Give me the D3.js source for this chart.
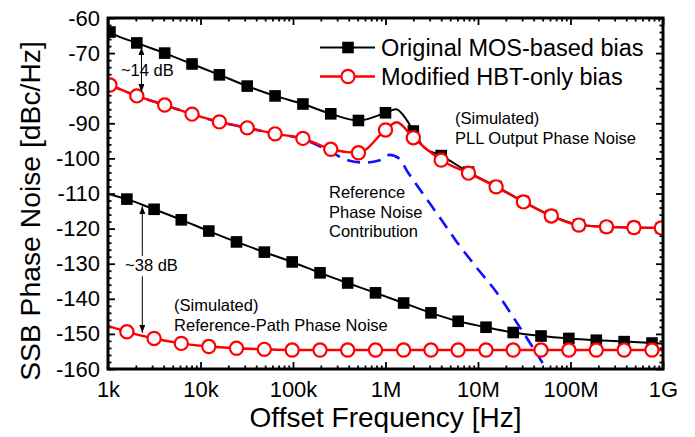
<!DOCTYPE html>
<html>
<head>
<meta charset="utf-8">
<script src="https://cdn.jsdelivr.net/npm/d3@7"></script>
<style>
  body { margin: 0; background: #fff; }
  svg { font-family: "Liberation Sans", Arial, sans-serif; }
</style>
</head>
<body>
<svg width="695" height="437"></svg>
<script>
// axis ticks
const xTicks = [1e3, 1e4, 1e5, 1e6, 1e7, 1e8, 1e9];
const xTickLabels = ['1k', '10k', '100k', '1M', '10M', '100M', '1G'];
const yTicks = [-60, -70, -80, -90, -100, -110, -120, -130, -140, -150, -160];

// PLL output phase noise (markers)
const upperFreq = [1.05e3, 2.05e3, 4.1e3, 8.1e3, 16e3, 32e3, 64e3, 128e3, 256e3, 510e3,
  1.0e6, 2.0e6, 4.0e6, 7.9e6, 15.7e6, 31e6, 62e6, 123e6, 245e6, 485e6, 960e6];
const mosPll = [-64.0, -67.1, -70.0, -73.1, -76.2, -79.4, -82.2, -84.5, -87.3, -89.2,
  -87.0, -92.2, -99.2, -103.9, -108.0, -112.3, -116.3, -118.9, -119.5, -119.7, -119.8];
const hbtPll = [-79.1, -82.2, -84.8, -87.4, -89.6, -91.3, -93.0, -94.3, -97.4, -98.4,
  -91.9, -94.1, -100.5, -104.2, -108.1, -112.4, -116.4, -119.0, -119.5, -119.7, -119.8];
// extra curve points (no marker): ends and peaks
const mosPllExtra = [[1e3, -63.6], [1.3e6, -86.0], [1.7e6, -89.1], [2.6e6, -96.8], [1e9, -119.8]];
const hbtPllExtra = [[1e3, -78.9], [1.32e6, -89.7], [1e9, -119.8]];

// reference path phase noise (markers)
const lowerFreq = [1.6e3, 3.15e3, 6.2e3, 12.3e3, 24.5e3, 49e3, 98e3, 196e3, 390e3, 780e3,
  1.57e6, 3.1e6, 6.1e6, 12.2e6, 24e6, 48e6, 96e6, 190e6, 380e6, 760e6];
const mosRef = [-111.6, -114.5, -117.5, -120.7, -123.8, -126.7, -129.5, -132.6, -135.5, -138.3,
  -141.2, -144.0, -146.4, -148.1, -149.6, -150.6, -151.3, -151.8, -152.2, -152.6];
const hbtRef = [-149.4, -151.3, -152.7, -153.6, -154.1, -154.4, -154.6, -154.6, -154.6, -154.6,
  -154.6, -154.6, -154.6, -154.6, -154.6, -154.6, -154.6, -154.6, -154.6, -154.6];
const mosRefExtra = [[1e3, -110.1], [1e9, -152.8]];
const hbtRefExtra = [[1e3, -147.7], [1e9, -154.6]];

// reference phase noise contribution (dashed)
const contribFreq = [1e3, 2.05e3, 4.1e3, 8.1e3, 16e3, 32e3, 64e3, 128e3, 250e3, 400e3, 600e3,
  850e3, 1.1e6, 1.4e6, 1.75e6, 2.0e6, 3.9e6, 5.9e6, 9.6e6, 16e6, 24e6, 50e6];
const contrib = [-78.9, -82.2, -84.8, -87.4, -89.6, -91.3, -93.0, -94.5, -98.0, -100.6, -101.2,
  -100.6, -99.0, -100.0, -104.0, -106.2, -117.0, -123.8, -131.0, -138.3, -145.2, -158.3];

const svg = d3.select('svg');
const box = { l: 108, r: 663, t: 18, b: 369 };

const x = d3.scaleLog().domain([1e3, 1e9]).range([box.l, box.r]);
const y = d3.scaleLinear().domain([-160, -60]).range([box.b, box.t]);

const xMinor = [];
xTicks.slice(0, -1).forEach(d => { for (let k = 2; k < 10; k++) xMinor.push(d * k); });
const yMinor = d3.range(-160, -59, 2).filter(d => d % 10 !== 0);

function tidy(g, size) {
  g.attr('font-family', null).attr('font-size', size);
  g.select('.domain').remove();
  g.selectAll('line').attr('stroke', '#000').attr('stroke-width', 1.8);
  g.selectAll('text').attr('fill', '#000');
}

// major + minor ticks on all four sides
svg.append('g').attr('transform', `translate(0,${box.b})`)
  .call(d3.axisBottom(x).tickValues(xTicks).tickFormat((d, i) => xTickLabels[i])
    .tickSizeInner(-7).tickSizeOuter(0).tickPadding(12))
  .call(g => tidy(g, 22));
svg.append('g').attr('transform', `translate(0,${box.b})`)
  .call(d3.axisBottom(x).tickValues(xMinor).tickFormat('').tickSize(-3.5))
  .call(g => tidy(g, 22));
svg.append('g').attr('transform', `translate(0,${box.t})`)
  .call(d3.axisTop(x).tickValues(xTicks).tickFormat('').tickSize(-7))
  .call(g => tidy(g, 22));
svg.append('g').attr('transform', `translate(0,${box.t})`)
  .call(d3.axisTop(x).tickValues(xMinor).tickFormat('').tickSize(-3.5))
  .call(g => tidy(g, 22));

svg.append('g').attr('transform', `translate(${box.l},0)`)
  .call(d3.axisLeft(y).tickValues(yTicks).tickFormat(d => d)
    .tickSizeInner(-7).tickSizeOuter(0).tickPadding(8))
  .call(g => tidy(g, 22));
svg.append('g').attr('transform', `translate(${box.l},0)`)
  .call(d3.axisLeft(y).tickValues(yMinor).tickFormat('').tickSize(-3.5))
  .call(g => tidy(g, 22));
svg.append('g').attr('transform', `translate(${box.r},0)`)
  .call(d3.axisRight(y).tickValues(yTicks).tickFormat('').tickSize(-7))
  .call(g => tidy(g, 22));
svg.append('g').attr('transform', `translate(${box.r},0)`)
  .call(d3.axisRight(y).tickValues(yMinor).tickFormat('').tickSize(-3.5))
  .call(g => tidy(g, 22));

// axis titles
svg.append('text')
  .attr('x', (box.l + box.r) / 2).attr('y', 427)
  .attr('text-anchor', 'middle').attr('font-size', 28)
  .text('Offset Frequency [Hz]');
svg.append('text')
  .attr('transform', 'translate(40,211) rotate(-90)')
  .attr('text-anchor', 'middle').attr('font-size', 28.3)
  .text('SSB Phase Noise [dBc/Hz]');

// plot content
const defs = svg.append('defs');
defs.append('clipPath').attr('id', 'plot')
  .append('rect').attr('x', box.l).attr('y', box.t)
  .attr('width', box.r - box.l).attr('height', box.b - box.t);

const line = d3.line()
  .x(d => x(d[0])).y(d => y(d[1]))
  .curve(d3.curveMonotoneX);

const pts = (freq, vals, extra) => freq.map((f, i) => [f, vals[i]])
  .concat(extra || []).sort((a, b) => a[0] - b[0]);

const plot = svg.append('g').attr('clip-path', 'url(#plot)');

function drawLine(data, color, width, dash) {
  plot.append('path')
    .attr('d', line(data))
    .attr('fill', 'none')
    .attr('stroke', color)
    .attr('stroke-width', width)
    .attr('stroke-dasharray', dash || null);
}

function drawSquares(freq, vals) {
  plot.append('g').selectAll('rect')
    .data(freq.map((f, i) => [f, vals[i]]))
    .join('rect')
    .attr('x', d => x(d[0]) - 5.8).attr('y', d => y(d[1]) - 5.8)
    .attr('width', 11.6).attr('height', 11.6)
    .attr('fill', '#000');
}

function drawCircles(freq, vals) {
  plot.append('g').selectAll('circle')
    .data(freq.map((f, i) => [f, vals[i]]))
    .join('circle')
    .attr('cx', d => x(d[0])).attr('cy', d => y(d[1]))
    .attr('r', 6.6)
    .attr('fill', '#fff').attr('stroke', '#ff0000').attr('stroke-width', 2.2);
}

drawLine(pts(upperFreq, mosPll, mosPllExtra), '#000', 2);
drawLine(pts(lowerFreq, mosRef, mosRefExtra), '#000', 2);
drawSquares(upperFreq, mosPll);
drawSquares(lowerFreq, mosRef);
drawLine(pts(contribFreq, contrib), '#1010ff', 2.6, '13,8');
drawLine(pts(upperFreq, hbtPll, hbtPllExtra), '#ff0000', 2.4);
drawLine(pts(lowerFreq, hbtRef, hbtRefExtra), '#ff0000', 2.4);
drawCircles(upperFreq, hbtPll);
drawCircles(lowerFreq, hbtRef);

// frame
svg.append('rect')
  .attr('x', box.l).attr('y', box.t)
  .attr('width', box.r - box.l).attr('height', box.b - box.t)
  .attr('fill', 'none').attr('stroke', '#000').attr('stroke-width', 3);

// legend
const legend = svg.append('g');
[['Original MOS-based bias', 47.5, 'sq'], ['Modified HBT-only bias', 76.5, 'ci']].forEach(([label, ly, kind]) => {
  const color = kind === 'sq' ? '#000' : '#ff0000';
  legend.append('line').attr('x1', 320).attr('x2', 375).attr('y1', ly).attr('y2', ly)
    .attr('stroke', color).attr('stroke-width', kind === 'sq' ? 2 : 2.4);
  if (kind === 'sq') {
    legend.append('rect').attr('x', 348 - 5.8).attr('y', ly - 5.8)
      .attr('width', 11.6).attr('height', 11.6).attr('fill', '#000');
  } else {
    legend.append('circle').attr('cx', 348).attr('cy', ly).attr('r', 6.6)
      .attr('fill', '#fff').attr('stroke', '#ff0000').attr('stroke-width', 2.2);
  }
  legend.append('text').attr('x', 381).attr('y', ly + 8.5)
    .attr('font-size', 23.5).text(label);
});

// annotations
defs.append('marker').attr('id', 'arr')
  .attr('viewBox', '0 0 8 6').attr('refX', 8).attr('refY', 3)
  .attr('markerWidth', 8).attr('markerHeight', 6)
  .attr('markerUnits', 'userSpaceOnUse')
  .attr('orient', 'auto-start-reverse')
  .append('path').attr('d', 'M0,0L8,3L0,6Z').attr('fill', '#000');

function arrow(f, v1, v2, head1, head2) {
  svg.append('line')
    .attr('x1', x(f)).attr('x2', x(f)).attr('y1', y(v1)).attr('y2', y(v2))
    .attr('stroke', '#000').attr('stroke-width', 1)
    .attr('marker-start', head1 ? 'url(#arr)' : null)
    .attr('marker-end', head2 ? 'url(#arr)' : null);
}

arrow(2.3e3, -68.3, -81.1, true, true);
arrow(2.35e3, -113.6, -127.8, true, false);
arrow(2.35e3, -133.6, -149.7, false, true);

function note(f, v, lines) {
  const t = svg.append('text').attr('x', x(f)).attr('y', y(v)).attr('font-size', 16.5);
  lines.forEach((s, i) => {
    t.append('tspan').attr('x', x(f)).attr('dy', i ? 19.5 : 0).text(s);
  });
}

note(1.38e3, -76.5, ['~14 dB']);
note(1.53e3, -132.1, ['~38 dB']);
note(5.64e6, -90.2, ['(Simulated)', 'PLL Output Phase Noise']);
note(245e3, -111.3, ['Reference', 'Phase Noise', 'Contribution']);
note(5.18e3, -143.5, ['(Simulated)', 'Reference-Path Phase Noise']);
</script>
</body>
</html>
